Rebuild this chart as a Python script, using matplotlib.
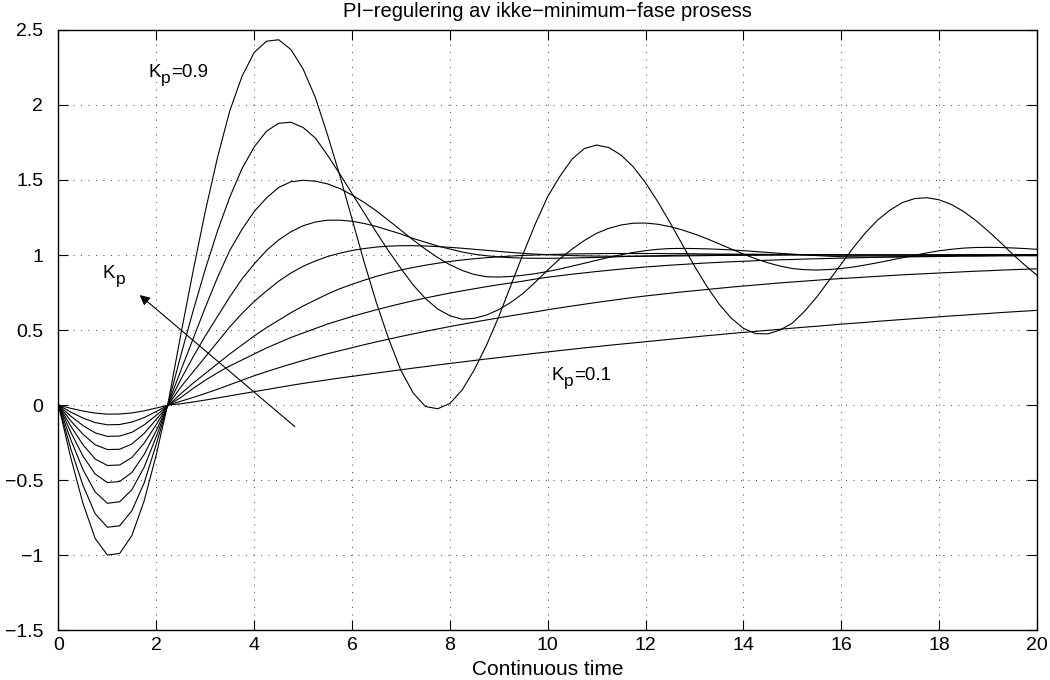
#Import Necessary Libraries
import matplotlib
matplotlib.use('Agg')
from matplotlib import pyplot as plt
from matplotlib.transforms import offset_copy

#Time axis (s) and step responses, one list per Kp
t = [0, 0.25, 0.5, 0.75, 1.0, 1.25, 1.5, 1.75, 2.0, 2.25,
     2.5, 2.75, 3.0, 3.25, 3.5, 3.75, 4.0, 4.25, 4.5, 4.75,
     5.0, 5.25, 5.5, 5.75, 6.0, 6.25, 6.5, 6.75, 7.0, 7.25,
     7.5, 7.75, 8.0, 8.25, 8.5, 8.75, 9.0, 9.25, 9.5, 9.75,
     10.0, 10.25, 10.5, 10.75, 11.0, 11.25, 11.5, 11.75, 12.0, 12.25,
     12.5, 12.75, 13.0, 13.25, 13.5, 13.75, 14.0, 14.25, 14.5, 14.75,
     15.0, 15.25, 15.5, 15.75, 16.0, 16.25, 16.5, 16.75, 17.0, 17.25,
     17.5, 17.75, 18.0, 18.25, 18.5, 18.75, 19.0, 19.25, 19.5, 19.75, 20.0]

y_kp01 = [0, -0.022, -0.04, -0.054, -0.061, -0.06, -0.053, -0.039, -0.02, 0.0,
          0.008, 0.02, 0.033, 0.047, 0.061, 0.075, 0.089, 0.103, 0.117, 0.131,
          0.144, 0.156, 0.168, 0.18, 0.191, 0.202, 0.213, 0.224, 0.235, 0.246,
          0.256, 0.267, 0.277, 0.287, 0.297, 0.307, 0.316, 0.326, 0.335, 0.345,
          0.354, 0.363, 0.372, 0.381, 0.389, 0.398, 0.406, 0.414, 0.422, 0.43,
          0.438, 0.446, 0.454, 0.462, 0.469, 0.477, 0.484, 0.491, 0.498, 0.505,
          0.512, 0.519, 0.525, 0.532, 0.539, 0.545, 0.551, 0.558, 0.564, 0.57,
          0.576, 0.582, 0.588, 0.594, 0.599, 0.605, 0.61, 0.616, 0.621, 0.626, 0.631]
y_kp02 = [0, -0.047, -0.087, -0.117, -0.132, -0.13, -0.114, -0.084, -0.043, 0.0,
          0.025, 0.05, 0.077, 0.105, 0.135, 0.165, 0.195, 0.222, 0.248, 0.273,
          0.297, 0.32, 0.342, 0.362, 0.382, 0.402, 0.421, 0.439, 0.457, 0.474,
          0.491, 0.507, 0.523, 0.538, 0.553, 0.567, 0.581, 0.595, 0.608, 0.621,
          0.635, 0.648, 0.66, 0.672, 0.684, 0.695, 0.706, 0.717, 0.727, 0.736,
          0.745, 0.754, 0.762, 0.77, 0.778, 0.786, 0.793, 0.8, 0.807, 0.814,
          0.82, 0.826, 0.832, 0.838, 0.843, 0.848, 0.853, 0.858, 0.863, 0.868,
          0.872, 0.876, 0.88, 0.884, 0.888, 0.892, 0.895, 0.899, 0.902, 0.905, 0.908]
y_kp03 = [0, -0.074, -0.137, -0.186, -0.209, -0.207, -0.182, -0.133, -0.068, 0.0,
          0.05, 0.11, 0.165, 0.215, 0.26, 0.30, 0.34, 0.38, 0.415, 0.45,
          0.48, 0.51, 0.54, 0.565, 0.59, 0.613, 0.635, 0.656, 0.676, 0.695,
          0.713, 0.73, 0.746, 0.761, 0.775, 0.789, 0.802, 0.814, 0.826, 0.84,
          0.852, 0.862, 0.872, 0.881, 0.89, 0.898, 0.906, 0.913, 0.92, 0.926,
          0.932, 0.937, 0.942, 0.947, 0.951, 0.955, 0.958, 0.962, 0.965, 0.968,
          0.97, 0.973, 0.975, 0.977, 0.979, 0.981, 0.983, 0.985, 0.986, 0.987,
          0.988, 0.989, 0.99, 0.991, 0.992, 0.992, 0.993, 0.994, 0.994, 0.995, 0.995]
y_kp04 = [0, -0.105, -0.195, -0.265, -0.297, -0.295, -0.26, -0.19, -0.095, 0.0,
          0.075, 0.145, 0.21, 0.275, 0.34, 0.40, 0.46, 0.515, 0.565, 0.615,
          0.66, 0.70, 0.74, 0.775, 0.805, 0.832, 0.858, 0.88, 0.90, 0.917,
          0.932, 0.945, 0.957, 0.967, 0.975, 0.982, 0.988, 0.993, 0.997, 1.0,
          1.003, 1.005, 1.007, 1.008, 1.009, 1.01, 1.01, 1.01, 1.01, 1.01,
          1.009, 1.009, 1.008, 1.007, 1.006, 1.006, 1.005, 1.005, 1.004, 1.004,
          1.003, 1.003, 1.002, 1.002, 1.001, 1.001, 1.0, 1.0, 1.0, 1.0,
          1.0, 1.0, 1.0, 1.0, 1.0, 1.0, 1.0, 1.0, 1.0, 1.0, 1.0]
y_kp05 = [0, -0.14, -0.265, -0.36, -0.403, -0.40, -0.35, -0.255, -0.13, 0.005,
          0.12, 0.22, 0.32, 0.42, 0.52, 0.61, 0.69, 0.76, 0.825, 0.88,
          0.925, 0.96, 0.99, 1.012, 1.03, 1.043, 1.053, 1.059, 1.062, 1.062,
          1.06, 1.056, 1.051, 1.045, 1.038, 1.031, 1.024, 1.017, 1.011, 1.006,
          1.002, 0.999, 0.996, 0.994, 0.993, 0.992, 0.992, 0.992, 0.992, 0.992,
          0.993, 0.994, 0.995, 0.996, 0.997, 0.997, 0.998, 0.998, 0.999, 0.999,
          1.0, 1.0, 1.0, 1.0, 1.0, 1.0, 1.0, 1.0, 1.0, 1.0,
          1.0, 1.0, 1.0, 1.0, 1.0, 1.0, 1.0, 1.0, 1.0, 1.0, 1.0]
y_kp06 = [0, -0.18, -0.34, -0.46, -0.517, -0.51, -0.45, -0.33, -0.17, 0.01,
          0.17, 0.32, 0.46, 0.59, 0.72, 0.84, 0.94, 1.03, 1.10, 1.155,
          1.195, 1.22, 1.232, 1.232, 1.225, 1.21, 1.19, 1.165, 1.14, 1.11,
          1.085, 1.06, 1.04, 1.02, 1.005, 0.995, 0.987, 0.982, 0.979, 0.978,
          0.978, 0.979, 0.98, 0.982, 0.984, 0.986, 0.989, 0.991, 0.993, 0.995,
          0.997, 0.999, 1.0, 1.001, 1.002, 1.003, 1.003, 1.003, 1.003, 1.003,
          1.003, 1.002, 1.002, 1.001, 1.001, 1.0, 1.0, 1.0, 1.0, 1.0,
          1.0, 1.0, 1.0, 1.0, 1.0, 1.0, 1.0, 1.0, 1.0, 1.0, 1.0]
y_kp07 = [0, -0.23, -0.43, -0.58, -0.655, -0.645, -0.565, -0.415, -0.21, 0.015,
          0.23, 0.44, 0.65, 0.85, 1.03, 1.17, 1.29, 1.38, 1.45, 1.488,
          1.498, 1.492, 1.474, 1.443, 1.40, 1.35, 1.293, 1.23, 1.165, 1.10,
          1.039, 0.983, 0.935, 0.897, 0.870, 0.855, 0.853, 0.857, 0.865, 0.876,
          0.89, 0.907, 0.926, 0.945, 0.965, 0.984, 1.002, 1.017, 1.029, 1.038,
          1.043, 1.044, 1.043, 1.041, 1.038, 1.034, 1.029, 1.023, 1.017, 1.011,
          1.006, 1.001, 0.996, 0.992, 0.989, 0.988, 0.987, 0.987, 0.988, 0.989,
          0.991, 0.992, 0.994, 0.996, 0.997, 0.999, 1.0, 1.001, 1.002, 1.003, 1.003]
y_kp08 = [0, -0.29, -0.535, -0.725, -0.815, -0.805, -0.705, -0.52, -0.26, 0.02,
          0.33, 0.625, 0.905, 1.16, 1.385, 1.575, 1.72, 1.825, 1.878, 1.885,
          1.85, 1.78, 1.665, 1.54, 1.41, 1.28, 1.15, 1.025, 0.91, 0.80,
          0.71, 0.64, 0.595, 0.572, 0.578, 0.60, 0.636, 0.685, 0.745, 0.82,
          0.90, 0.975, 1.04, 1.097, 1.145, 1.178, 1.20, 1.212, 1.213, 1.205,
          1.189, 1.167, 1.14, 1.109, 1.075, 1.04, 1.006, 0.975, 0.948, 0.926,
          0.91, 0.902, 0.90, 0.903, 0.91, 0.92, 0.934, 0.949, 0.965, 0.982,
          0.998, 1.014, 1.028, 1.038, 1.046, 1.05, 1.051, 1.05, 1.047, 1.043, 1.038]
y_kp09 = [0, -0.35, -0.655, -0.89, -1.0, -0.99, -0.87, -0.64, -0.33, 0.03,
          0.47, 0.89, 1.29, 1.65, 1.96, 2.19, 2.35, 2.425, 2.435, 2.37,
          2.24, 2.05, 1.80, 1.53, 1.24, 0.95, 0.68, 0.44, 0.23, 0.08,
          -0.01, -0.025, 0.01, 0.10, 0.235, 0.40, 0.59, 0.80, 1.01, 1.21,
          1.39, 1.525, 1.64, 1.71, 1.733, 1.716, 1.666, 1.587, 1.481, 1.355,
          1.216, 1.07, 0.926, 0.792, 0.674, 0.579, 0.511, 0.476, 0.474, 0.50,
          0.546, 0.625, 0.72, 0.83, 0.94, 1.05, 1.15, 1.235, 1.30, 1.35,
          1.376, 1.382, 1.368, 1.337, 1.29, 1.23, 1.16, 1.085, 1.006, 0.933, 0.865]

x_ticks = [0, 2, 4, 6, 8, 10, 12, 14, 16, 18, 20]
x_tick_labels = ['0', '2', '4', '6', '8', '10', '12', '14', '16', '18', '20']
y_ticks = [-1.5, -1, -0.5, 0, 0.5, 1, 1.5, 2, 2.5]
y_tick_labels = ['\u22121.5', '\u22121', '\u22120.5', '0', '0.5', '1', '1.5', '2', '2.5']

#Fonts
plt.rcParams['font.family'] = ['Liberation Sans', 'DejaVu Sans']

#Plot
fig = plt.figure(figsize=(10.5, 6.8), dpi=100)
ax = fig.add_axes([0.0557, 0.0735, 0.9319, 0.8824])

for y in [y_kp01, y_kp02, y_kp03, y_kp04, y_kp05, y_kp06, y_kp07, y_kp08, y_kp09]:
    ax.plot(t, y, color='black', linewidth=0.8)

ax.set_xlim(0, 20)
ax.set_ylim(-1.5, 2.5)
ax.set_xticks(x_ticks)
ax.set_xticklabels(x_tick_labels)
ax.set_yticks(y_ticks)
ax.set_yticklabels(y_tick_labels)
ax.grid(True, color='black', linestyle=(0, (1, 8)), linewidth=0.6)
ax.tick_params(direction='in', top=True, right=True, length=7, width=0.8, labelsize=14)
ax.tick_params(axis='y', pad=11)
ax.tick_params(axis='x', pad=5)
for s in ax.spines.values():
    s.set_linewidth(1.0)

ax.set_title('PI\u2212regulering av ikke\u2212minimum\u2212fase prosess', fontsize=14.5, pad=9)
ax.set_xlabel('Continuous time', fontsize=15, labelpad=4.5)


#K with a large lowered subscript p, like the original
def kp_label(x, y, suffix):
    ax.text(x, y, 'K', fontsize=13.5, va='baseline')
    tr_p = offset_copy(ax.transData, fig=fig, x=9.3, y=-4.5, units='points')
    ax.text(x, y, 'p', fontsize=12.5, va='baseline', transform=tr_p)
    tr_s = offset_copy(ax.transData, fig=fig, x=16.3, y=0, units='points')
    ax.text(x, y, suffix, fontsize=13.5, va='baseline', transform=tr_s)


kp_label(1.83, 2.187, '=0.9')
kp_label(10.07, 0.167, '=0.1')
kp_label(0.90, 0.847, '')
ax.annotate('', xy=(1.66, 0.733), xytext=(4.83, -0.144),
            arrowprops=dict(arrowstyle='-|>', color='black', lw=0.8,
                            mutation_scale=15, shrinkA=0, shrinkB=0))

plt.savefig('out.png', dpi=100)
